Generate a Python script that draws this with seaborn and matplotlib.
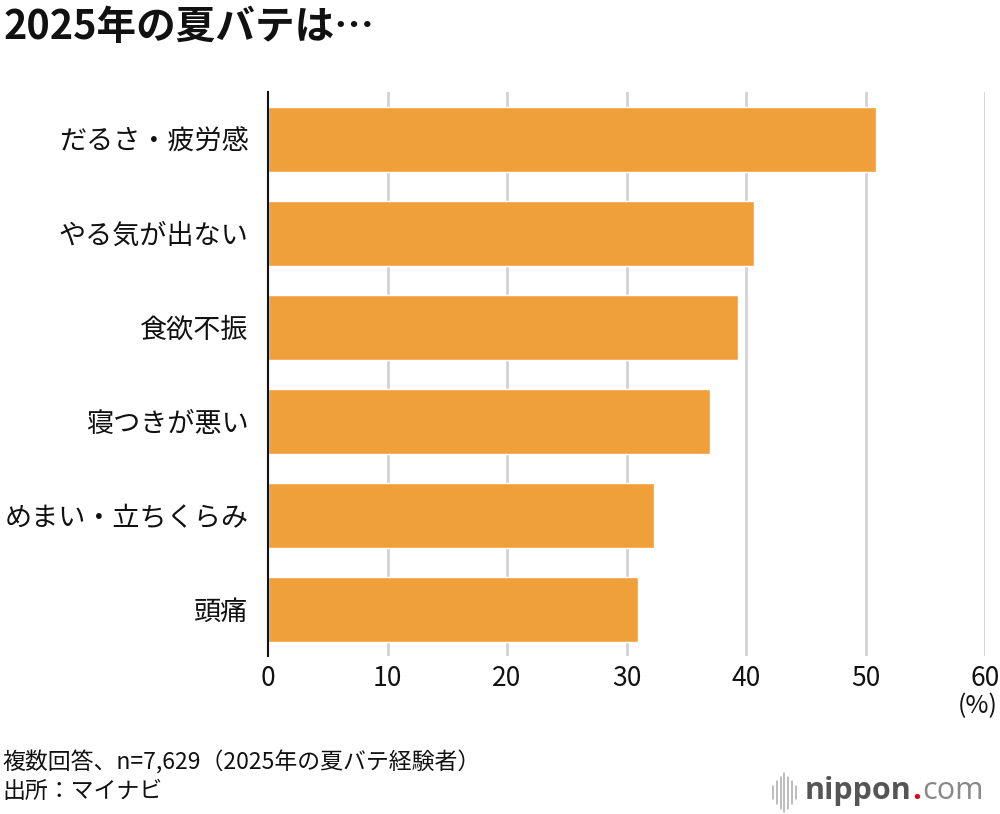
import matplotlib
matplotlib.use("Agg")
import matplotlib.pyplot as plt
import seaborn as sns
import pandas as pd
from matplotlib.lines import Line2D

# Data
categories = ["だるさ・疲労感", "やる気が出ない", "食欲不振", "寝つきが悪い", "めまい・立ちくらみ", "頭痛"]
values = [50.9, 40.7, 39.3, 37.0, 32.3, 31.0]
xticks = [0, 10, 20, 30, 40, 50, 60]

title = "2025年の夏バテは…"
note = "複数回答、n=7,629（2025年の夏バテ経験者）"
source = "出所：マイナビ"

bar_color = "#F0A03A"
grid_color = "#D3D3D3"

sns.set_theme(style="white")
plt.rcParams["font.family"] = ["Noto Sans CJK JP", "DejaVu Sans"]

df = pd.DataFrame({"category": categories, "value": values})

fig = plt.figure(figsize=(10, 8.14), dpi=100)
ax = fig.add_axes([0.268, 0.1935, 0.717, 0.693])

sns.barplot(data=df, x="value", y="category", color=bar_color, width=0.69,
            saturation=1, ax=ax, zorder=3)

ax.set_xlim(0, 60)
ax.set_ylim(5.5, -0.5)
ax.set_xticks(xticks)
ax.set_xticklabels([str(t) for t in xticks], fontsize=19)
ax.tick_params(axis="x", length=0, pad=6, colors="#111111")
ax.tick_params(axis="y", length=0, pad=14, labelsize=19.5, colors="#111111")
ax.set_xlabel("")
ax.set_ylabel("")

for t in xticks[1:]:
    ax.axvline(t, color=grid_color, lw=2, zorder=1)

for s in ["top", "right", "bottom"]:
    ax.spines[s].set_visible(False)
ax.spines["left"].set_color("#111111")
ax.spines["left"].set_linewidth(1.5)
ax.spines["left"].set_zorder(4)

# (%) unit label
fig.text(0.998, 0.133, "(%)", ha="right", va="center", fontsize=18, color="#111111")

# Title
fig.text(0.004, 0.966, title, ha="left", va="center", fontsize=28.5,
         fontweight="bold", color="#111111")

# Footer
fig.text(0.002, 0.063, note, ha="left", va="center", fontsize=16.5, color="#111111")
fig.text(0.002, 0.028, source, ha="left", va="center", fontsize=16.5, color="#111111")

# Logo
for i, h in enumerate([0.008, 0.014, 0.020, 0.024, 0.020, 0.014, 0.008]):
    x = 0.773 + i * 0.0038
    fig.add_artist(Line2D([x, x], [0.026 - h, 0.026 + h], color="#AAAAAA", lw=1.1))
fig.canvas.draw()
r = fig.canvas.get_renderer()
t1 = fig.text(0.805, 0.028, "nippon", ha="left", va="center", fontsize=22,
              fontweight="bold", family=["Open Sans", "DejaVu Sans"], color="#555555")
x1 = t1.get_window_extent(r).x1 / fig.bbox.width
t2 = fig.text(x1 + 0.001, 0.028, ".", ha="left", va="center", fontsize=22,
              fontweight="bold", family=["Open Sans", "DejaVu Sans"], color="#E60012")
x2 = t2.get_window_extent(r).x1 / fig.bbox.width
fig.text(x2 + 0.001, 0.028, "com", ha="left", va="center", fontsize=22,
         family=["Open Sans", "DejaVu Sans"], color="#888888")

fig.savefig("out.png", dpi=100)
